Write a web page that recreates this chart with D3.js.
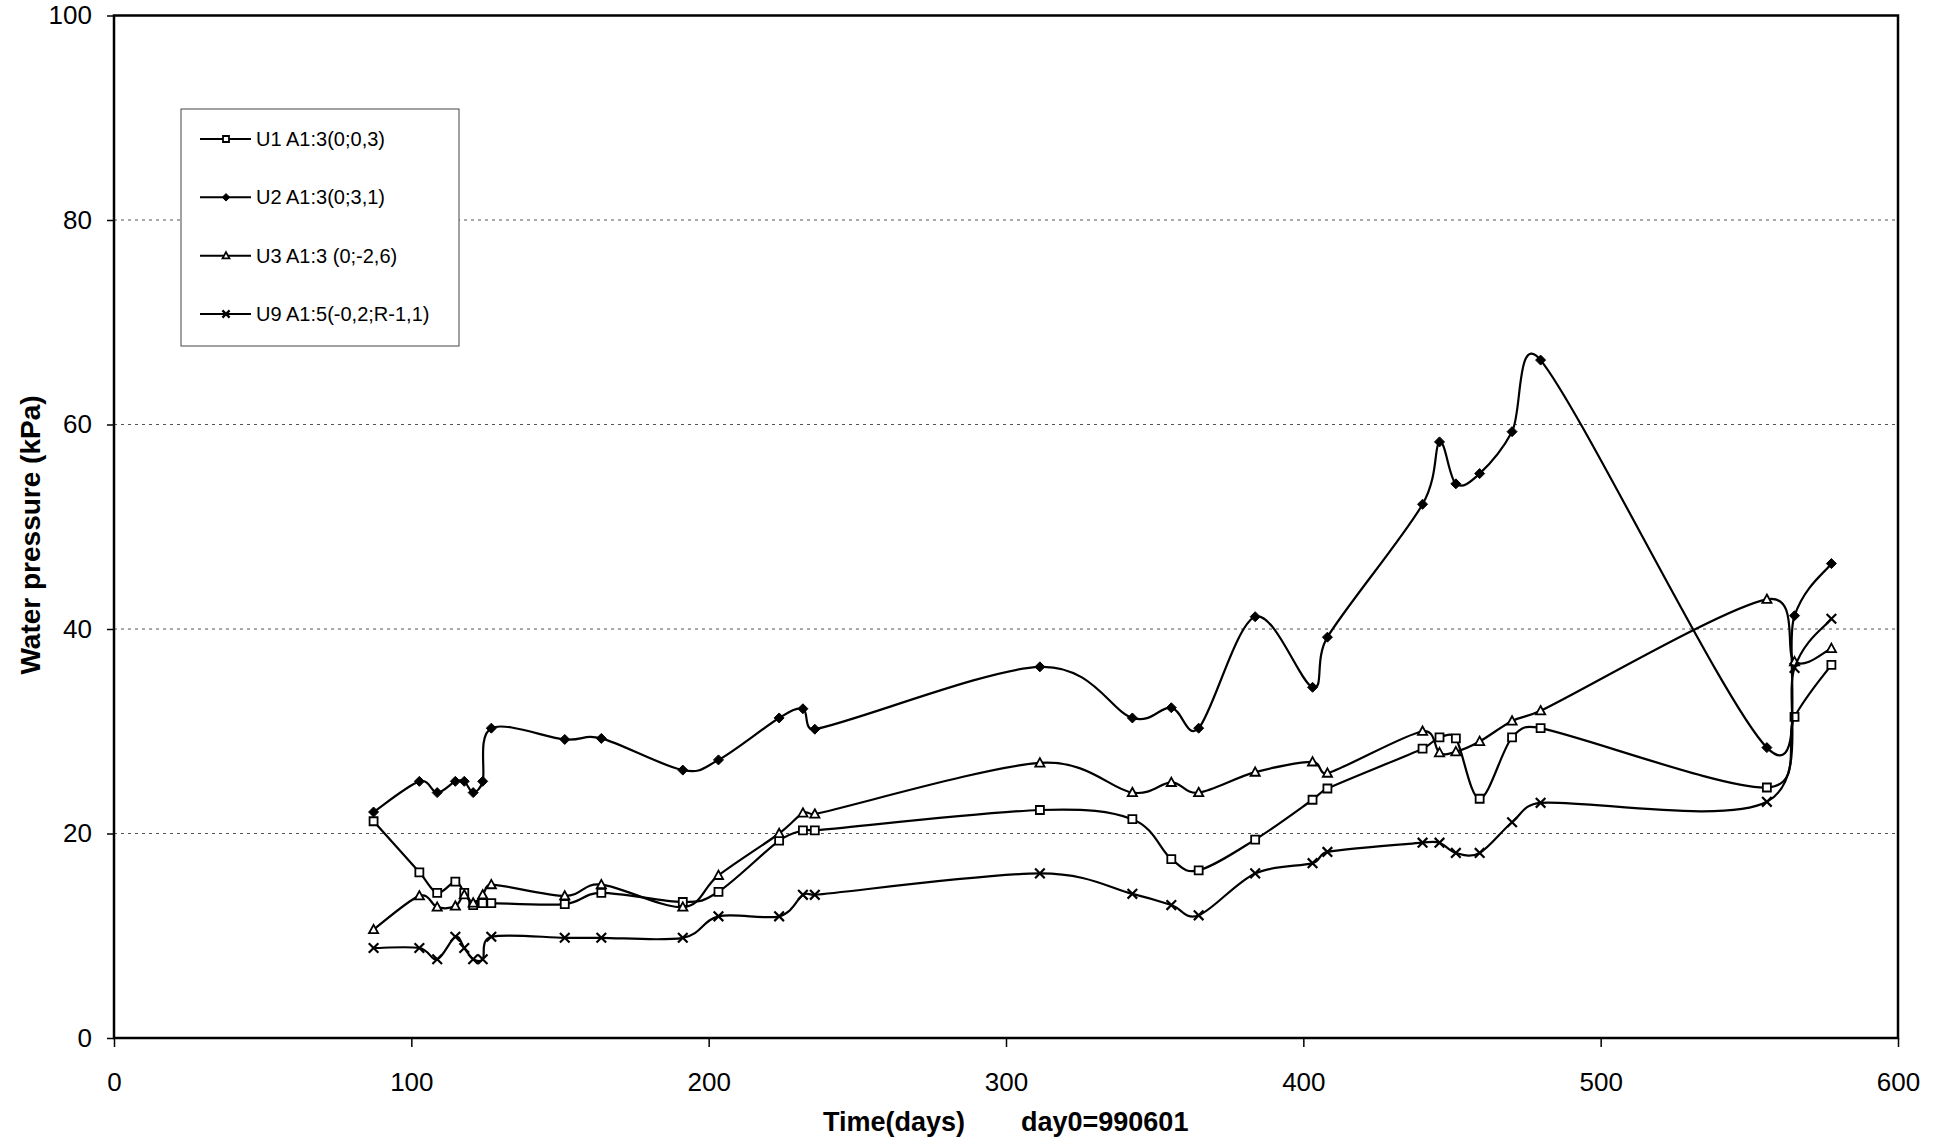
<!DOCTYPE html>
<html>
<head>
<meta charset="utf-8">
<script src="https://cdn.jsdelivr.net/npm/d3@7"></script>
<style>
  body { margin: 0; background: #fff; }
  svg { display: block; font-family: "Liberation Sans", Arial, sans-serif; }
</style>
</head>
<body>
<svg id="chart" width="1946" height="1141"></svg>
<script>
// measurement days (day0 = 990601)
const days = [87.3, 102.7, 108.7, 114.8, 117.8, 120.8, 124.0, 126.9, 151.6, 163.9, 191.3,
  203.3, 223.7, 231.7, 235.7, 311.4, 342.5, 355.6, 364.8, 383.8, 403.1, 408.1,
  440.1, 445.8, 451.3, 459.3, 470.2, 479.8, 555.9, 565.2, 577.6];

const u1 = [21.2, 16.2, 14.2, 15.3, 14.2, 13.0, 13.2, 13.2, 13.1, 14.2, 13.3,
  14.3, 19.3, 20.3, 20.3, 22.3, 21.4, 17.5, 16.4, 19.4, 23.3, 24.4,
  28.3, 29.4, 29.3, 23.4, 29.4, 30.3, 24.5, 31.4, 36.5];
const u2 = [22.1, 25.1, 24.0, 25.1, 25.1, 24.0, 25.1, 30.3, 29.2, 29.3, 26.2,
  27.2, 31.3, 32.2, 30.2, 36.3, 31.3, 32.3, 30.3, 41.2, 34.3, 39.2,
  52.2, 58.3, 54.2, 55.2, 59.3, 66.3, 28.4, 41.3, 46.4];
const u3 = [10.6, 13.9, 12.8, 12.9, 14.0, 13.2, 14.0, 15.0, 13.9, 15.0, 12.8,
  15.9, 20.0, 22.0, 21.9, 26.9, 24.0, 25.0, 24.0, 26.0, 27.0, 25.9,
  30.0, 27.9, 28.0, 29.0, 31.0, 32.0, 42.9, 36.8, 38.1];
const u9 = [8.8, 8.8, 7.7, 9.9, 8.8, 7.7, 7.7, 9.9, 9.8, 9.8, 9.8,
  11.9, 11.9, 14.0, 14.0, 16.1, 14.1, 13.0, 12.0, 16.1, 17.1, 18.2,
  19.1, 19.1, 18.1, 18.1, 21.1, 23.0, 23.1, 36.2, 41.0];

const seriesNames = ['U1 A1:3(0;0,3)', 'U2 A1:3(0;3,1)', 'U3 A1:3 (0;-2,6)', 'U9 A1:5(-0,2;R-1,1)'];
const seriesValues = [u1, u2, u3, u9];
const seriesMarkers = ['square', 'diamond', 'triangle', 'x'];

const xTicks = [0, 100, 200, 300, 400, 500, 600];
const yTicks = [0, 20, 40, 60, 80, 100];

const plotLeft = 114, plotRight = 1898, plotTop = 15.5, plotBottom = 1038;

const svg = d3.select('#chart');
svg.append('rect').attr('width', 1946).attr('height', 1141).attr('fill', '#fff');

const x = d3.scaleLinear().domain([0, 600]).range([plotLeft, plotRight]);
const y = d3.scaleLinear().domain([0, 100]).range([plotBottom, plotTop]);

// dotted gridlines
svg.append('g')
  .selectAll('line')
  .data(yTicks.filter(v => v > 0 && v < 100))
  .enter()
  .append('line')
  .attr('x1', plotLeft).attr('x2', plotRight)
  .attr('y1', d => y(d)).attr('y2', d => y(d))
  .attr('stroke', '#555')
  .attr('stroke-width', 1)
  .attr('stroke-dasharray', '3,4');

// axes
const yAxis = svg.append('g')
  .attr('transform', `translate(${plotLeft},0)`)
  .call(d3.axisLeft(y).tickValues(yTicks).tickSize(7).tickPadding(15));
const xAxis = svg.append('g')
  .attr('transform', `translate(0,${plotBottom})`)
  .call(d3.axisBottom(x).tickValues(xTicks).tickSize(9).tickPadding(26));

[yAxis, xAxis].forEach(g => {
  g.select('.domain').remove();
  g.selectAll('line').attr('stroke', '#000').attr('stroke-width', 1.5);
  g.selectAll('text')
    .attr('fill', '#000')
    .style('font-size', '26px')
    .style('font-family', '"Liberation Sans", Arial, sans-serif');
});

// plot frame
svg.append('rect')
  .attr('x', plotLeft).attr('y', plotTop)
  .attr('width', plotRight - plotLeft).attr('height', plotBottom - plotTop)
  .attr('fill', 'none')
  .attr('stroke', '#000')
  .attr('stroke-width', 2.5);

function markerPath(type, s) {
  if (type === 'square') return `M${-s},${-s}H${s}V${s}H${-s}Z`;
  if (type === 'diamond') return `M0,${-s * 1.25}L${s * 1.25},0L0,${s * 1.25}L${-s * 1.25},0Z`;
  if (type === 'triangle') return `M0,${-s * 1.2}L${s * 1.15},${s * 0.9}L${-s * 1.15},${s * 0.9}Z`;
  return `M${-s * 1.2},${-s * 1.2}L${s * 1.2},${s * 1.2}M${-s * 1.2},${s * 1.2}L${s * 1.2},${-s * 1.2}`;
}

function styleMarker(sel, type) {
  if (type === 'diamond') {
    sel.attr('fill', '#000').attr('stroke', '#000').attr('stroke-width', 1);
  } else if (type === 'x') {
    sel.attr('fill', 'none').attr('stroke', '#000').attr('stroke-width', 2.2);
  } else {
    sel.attr('fill', '#fff').attr('stroke', '#000').attr('stroke-width', 1.8);
  }
}

// spreadsheet-style smoothing: Catmull-Rom tangents, clamped to half the segment
function SmoothCurve(context) { this._context = context; }
SmoothCurve.prototype = {
  areaStart() {}, areaEnd() {},
  lineStart() { this._pts = []; },
  point(px, py) { this._pts.push([+px, +py]); },
  lineEnd() {
    const p = this._pts, ctx = this._context, n = p.length;
    if (!n) return;
    ctx.moveTo(p[0][0], p[0][1]);
    const clamp = (t, len) => {
      const l = Math.hypot(t[0], t[1]), max = 0.5 * len;
      return l > max && l > 0 ? [t[0] * max / l, t[1] * max / l] : t;
    };
    for (let i = 0; i < n - 1; i++) {
      const p0 = p[i - 1] || p[i], p1 = p[i], p2 = p[i + 1], p3 = p[i + 2] || p[i + 1];
      const len = Math.hypot(p2[0] - p1[0], p2[1] - p1[1]);
      const t1 = clamp([(p2[0] - p0[0]) / 6, (p2[1] - p0[1]) / 6], len);
      const t2 = clamp([(p3[0] - p1[0]) / 6, (p3[1] - p1[1]) / 6], len);
      ctx.bezierCurveTo(p1[0] + t1[0], p1[1] + t1[1], p2[0] - t2[0], p2[1] - t2[1], p2[0], p2[1]);
    }
  }
};

const line = d3.line()
  .x(d => x(d[0]))
  .y(d => y(d[1]))
  .curve(ctx => new SmoothCurve(ctx));

seriesValues.forEach((vals, i) => {
  const pts = days.map((d, j) => [d, vals[j]]);
  svg.append('path')
    .datum(pts)
    .attr('fill', 'none')
    .attr('stroke', '#000')
    .attr('stroke-width', 2.2)
    .attr('d', line);

  const type = seriesMarkers[i];
  svg.append('g')
    .selectAll('path')
    .data(pts)
    .enter()
    .append('path')
    .attr('transform', d => `translate(${x(d[0])},${y(d[1])})`)
    .attr('d', markerPath(type, 4))
    .call(styleMarker, type);
});

// legend
const legend = svg.append('g');
legend.append('rect')
  .attr('x', 181).attr('y', 109)
  .attr('width', 278).attr('height', 237)
  .attr('fill', '#fff')
  .attr('stroke', '#444')
  .attr('stroke-width', 1);

const rowY = d3.scalePoint().domain(seriesNames).range([139, 314]);
seriesNames.forEach((name, i) => {
  const ry = rowY(name);
  legend.append('line')
    .attr('x1', 200).attr('x2', 251)
    .attr('y1', ry).attr('y2', ry)
    .attr('stroke', '#000').attr('stroke-width', 2);
  legend.append('path')
    .attr('transform', `translate(226,${ry})`)
    .attr('d', markerPath(seriesMarkers[i], 3))
    .call(styleMarker, seriesMarkers[i]);
  legend.append('text')
    .attr('x', 256).attr('y', ry)
    .attr('dy', '0.35em')
    .style('font-size', '20px')
    .text(name);
});

// axis titles
svg.append('text')
  .attr('transform', 'translate(40,535) rotate(-90)')
  .attr('text-anchor', 'middle')
  .style('font-size', '28px')
  .style('font-weight', 'bold')
  .text('Water pressure (kPa)');

svg.append('text')
  .attr('x', 823).attr('y', 1131)
  .style('font-size', '27px')
  .style('font-weight', 'bold')
  .text('Time(days)');
svg.append('text')
  .attr('x', 1021).attr('y', 1131)
  .style('font-size', '27px')
  .style('font-weight', 'bold')
  .text('day0=990601');
</script>
</body>
</html>
